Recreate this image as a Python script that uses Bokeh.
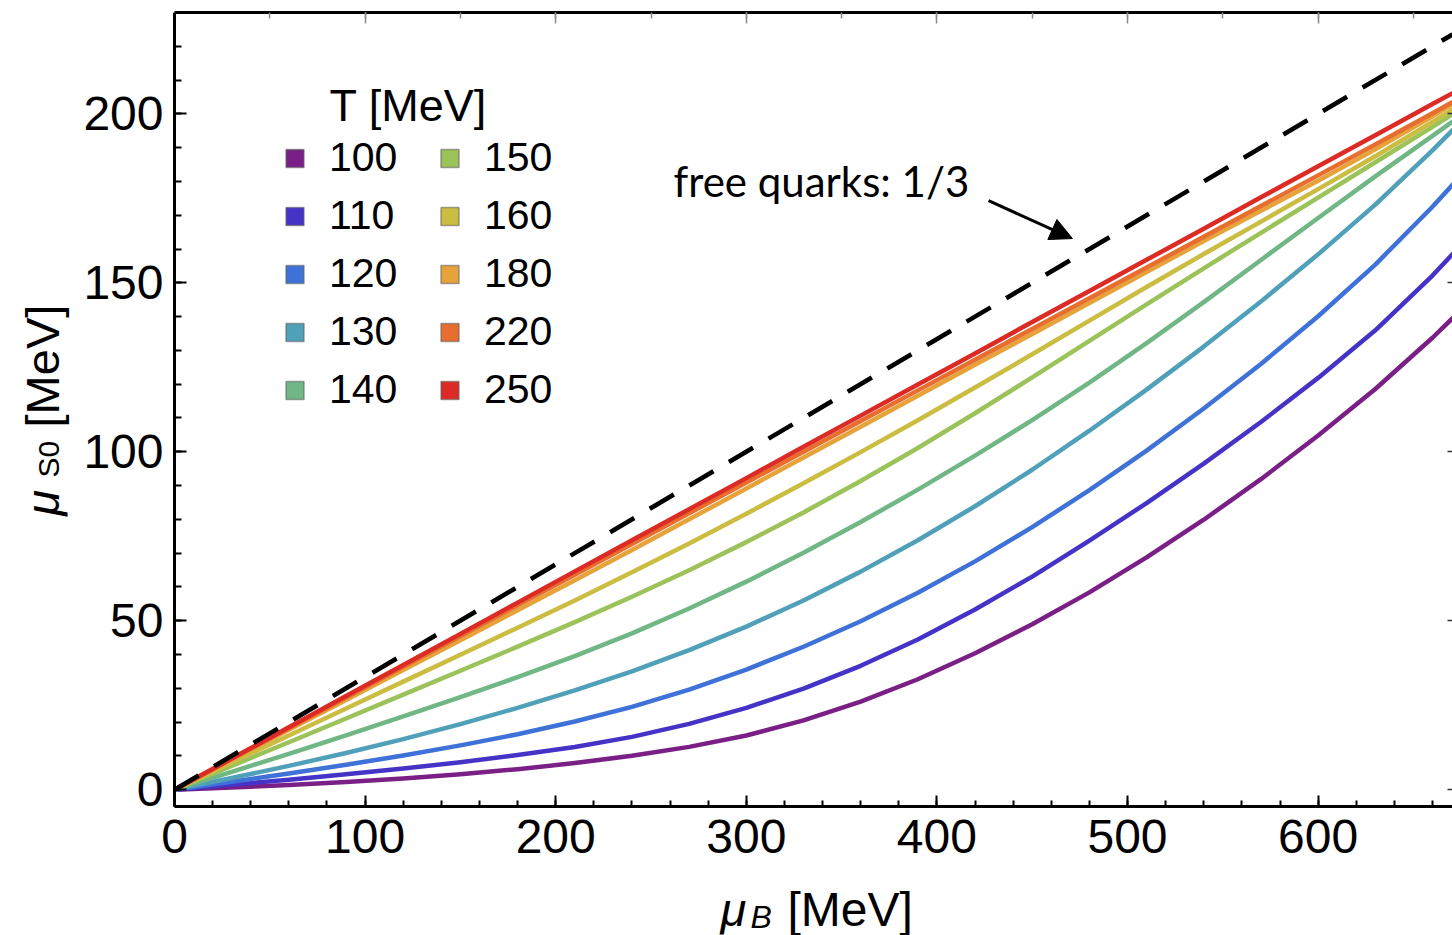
import math
from bokeh.plotting import figure
from bokeh.models import (Label, Arrow, NormalHead, Legend, LegendItem, LinearAxis,
                          FixedTicker, ColumnDataSource, Range1d)
from bokeh.embed import file_html
from bokeh.resources import INLINE

# ---------------- data ----------------
MU_B = [0, 30, 60, 90, 120, 150, 180, 210, 240, 270, 300, 330, 360, 390, 420, 450,
        480, 510, 540, 570, 600, 630, 660, 675]

T100 = [0, 0.63, 1.38, 2.25, 3.30, 4.56, 6.06, 7.86, 10.02, 12.66, 16.02, 20.52, 26.07,
        32.67, 40.35, 48.93, 58.38, 68.73, 79.89, 91.89, 104.79, 118.59, 133.74, 141.99]
T110 = [0, 1.44, 2.94, 4.53, 6.24, 8.13, 10.23, 12.63, 15.63, 19.47, 24.21, 29.91, 36.66,
        44.46, 53.31, 63.06, 73.71, 84.81, 96.51, 108.81, 121.86, 135.96, 152.16, 161.16]
T120 = [0, 2.37, 4.80, 7.35, 10.11, 13.11, 16.41, 20.16, 24.51, 29.61, 35.55, 42.30, 49.86,
        58.26, 67.56, 77.70, 88.65, 100.35, 112.80, 126.00, 140.10, 155.40, 172.50, 181.80]
T130 = [0, 3.45, 7.05, 10.86, 14.97, 19.41, 24.21, 29.40, 35.04, 41.28, 48.24, 55.98, 64.53,
        73.83, 83.88, 94.68, 106.23, 118.38, 131.13, 144.48, 158.43, 173.13, 189.18, 197.73]
T140 = [0, 5.28, 10.62, 16.08, 21.66, 27.39, 33.30, 39.51, 46.26, 53.61, 61.56, 70.11, 79.20,
        88.80, 98.85, 109.35, 120.45, 132.15, 144.30, 156.75, 169.20, 181.50, 193.50, 199.50]
T150 = [0, 7.02, 14.04, 21.06, 28.11, 35.19, 42.33, 49.59, 57.09, 64.95, 73.26, 82.05, 91.35,
        101.13, 111.39, 122.04, 132.84, 143.64, 154.29, 164.79, 175.23, 185.67, 196.17, 201.45]
T160 = [0, 8.04, 16.05, 24.03, 31.98, 39.93, 47.91, 56.01, 64.32, 72.87, 81.66, 90.66, 99.90,
        109.35, 119.01, 128.85, 138.81, 148.77, 158.52, 168.12, 177.72, 187.47, 197.61, 202.86]
T180 = [0, 8.85, 17.70, 26.55, 35.40, 44.25, 53.10, 61.95, 70.95, 80.01, 89.13, 98.28, 107.43,
        116.58, 125.73, 134.88, 144.03, 153.18, 162.36, 171.30, 180.20, 189.50, 199.30, 204.40]
T220 = [0, 9.09, 18.18, 27.27, 36.36, 45.45, 54.54, 63.63, 72.72, 81.81, 90.90, 99.99, 109.08,
        118.17, 127.26, 136.35, 145.44, 154.53, 163.62, 172.71, 181.80, 190.95, 200.20, 204.90]
T250 = [0, 9.20, 18.45, 27.70, 36.90, 46.10, 55.35, 64.60, 73.80, 83.00, 92.20, 101.50, 110.70,
        119.90, 129.10, 138.40, 147.60, 156.80, 166.00, 175.30, 184.50, 193.70, 202.90, 207.50]

TEMPS = ["100", "110", "120", "130", "140", "150", "160", "180", "220", "250"]
CURVES = [T100, T110, T120, T130, T140, T150, T160, T180, T220, T250]
COLORS = ["#7A1F86", "#4433C6", "#3F72D8", "#4FA0B8", "#70B785", "#9CC25A",
          "#CABD42", "#E6A33C", "#E86E2F", "#DC2B25"]

FREE_X = [0, 670.5]          # free quarks: mu_S0 = mu_B / 3
FREE_Y = [0, 223.5]

X_TICKS = [0, 100, 200, 300, 400, 500, 600]
X_MINOR = list(range(0, 680, 20))
Y_TICKS = [0, 50, 100, 150, 200]
Y_MINOR = list(range(0, 240, 10))
TOP_MINOR = list(range(0, 700, 50))

X_MIN, X_MAX = 0, 670.5       # plotted box
Y_MIN, Y_MAX = -5, 230

FONT = "Liberation Sans"

# ---------------- figure ----------------
# the frame spans the whole page; the axes are pinned to the box corners
p = figure(width=1452, height=935, x_range=Range1d(-91.29, X_MAX),
           y_range=Range1d(-43.16, Y_MAX),
           output_backend="svg", toolbar_location=None,
           min_border_left=0, min_border_right=0, min_border_top=12, min_border_bottom=0,
           background_fill_color="white", border_fill_color="white")
p.outline_line_color = None
p.xgrid.visible = False
p.ygrid.visible = False

xa = p.xaxis[0]
xa.ticker = FixedTicker(ticks=X_TICKS, minor_ticks=X_MINOR)
xa.fixed_location = Y_MIN
xa.bounds = (X_MIN, X_MAX)
ya = p.yaxis[0]
ya.ticker = FixedTicker(ticks=Y_TICKS, minor_ticks=Y_MINOR)
ya.fixed_location = X_MIN
ya.bounds = (Y_MIN, Y_MAX)
for ax, tin, mtin in ((xa, 11, 6), (ya, 12, 7)):
    ax.axis_line_width = 3
    ax.axis_line_color = "black"
    ax.major_tick_in = tin
    ax.major_tick_out = 0
    ax.minor_tick_in = mtin
    ax.minor_tick_out = 0
    ax.major_tick_line_width = 2
    ax.minor_tick_line_width = 2
    ax.major_tick_line_color = "black"
    ax.minor_tick_line_color = "black"
    ax.major_label_text_font = FONT
    ax.major_label_text_font_size = "48px"
    ax.major_label_text_color = "black"
xa.major_label_standoff = 13
ya.major_label_standoff = 11

top = LinearAxis(ticker=FixedTicker(ticks=X_TICKS, minor_ticks=TOP_MINOR),
                 bounds=(X_MIN, X_MAX))
top.axis_line_width = 3
top.axis_line_color = "black"
top.major_tick_in = 11
top.major_tick_out = 0
top.minor_tick_in = 6
top.minor_tick_out = 0
top.major_tick_line_color = "#8a8a8a"
top.minor_tick_line_color = "#8a8a8a"
top.major_tick_line_width = 1.5
top.minor_tick_line_width = 1.5
top.major_label_text_font_size = "0px"
top.major_label_text_color = None
top.major_label_standoff = 0
p.add_layout(top, "above")

right = LinearAxis(ticker=FixedTicker(ticks=Y_TICKS, minor_ticks=[]),
                   bounds=(Y_MIN, Y_MAX))
right.axis_line_color = None
right.major_tick_in = 5
right.major_tick_out = 0
right.minor_tick_in = 0
right.minor_tick_out = 0
right.major_tick_line_color = "#333333"
right.major_tick_line_width = 1.5
right.major_label_text_font_size = "0px"
right.major_label_text_color = None
right.major_label_standoff = 0
p.add_layout(right, "right")

# ---------------- curves ----------------
sources = []
for temp, ys, col in zip(TEMPS, CURVES, COLORS):
    src = ColumnDataSource(dict(x=MU_B, y=ys))
    sources.append(src)
    p.line("x", "y", source=src, line_color=col, line_width=4.5, line_join="round")

p.line(FREE_X, FREE_Y, line_color="black", line_width=4.6, line_dash="28 18",
       line_cap="butt")

# ---------------- legend (square swatches; zero-size proxies draw nothing in the plot) ----
items = []
for temp, col, src in zip(TEMPS, COLORS, sources):
    r = p.scatter("x", "y", source=src, marker="square", size=0, fill_color=col,
                  line_color="#666666", line_alpha=0.6, line_width=1.5)
    items.append(LegendItem(label=temp, renderers=[r], index=0))

leg = Legend(items=items, location=(272, 522), nrows=5, orientation="vertical",
             glyph_width=45, glyph_height=46, label_height=46, label_width=87,
             label_standoff=12, spacing=11, padding=0, margin=0,
             border_line_color=None, background_fill_alpha=0,
             label_text_font=FONT, label_text_font_size="41px",
             label_text_color="black")
p.add_layout(leg)


def lab(x, y, text, size, style="normal", angle=0.0, font=FONT):
    p.add_layout(Label(x=x, y=y, text=text, text_font=font, text_font_size=size,
                       text_font_style=style, text_color="black", angle=angle,
                       text_baseline="alphabetic", text_align="left"))


lab(81.3, 202.45, "T [MeV]", "45px")

# ---------------- annotation ----------------
lab(261.8, 180.0, "free quarks: 1/3", "42px", font="Lato")
p.add_layout(Arrow(x_start=427.1, y_start=174.3, x_end=471.1, y_end=163.1,
                   line_width=3, line_color="black",
                   end=NormalHead(size=22, fill_color="black", line_color="black")))

# ---------------- axis titles ----------------
# x title: mu_B [MeV]
lab(286.5, -35.48, "\u03bc", "47px", "italic")
lab(302.2, -37.55, "B", "32px", "italic")
lab(321.6, -35.48, "[MeV]", "48px")

# y title: mu_S0 [MeV]
lab(-69.3, 81.1, "\u03bc", "47px", "italic", math.pi / 2)
lab(-66.1, 92.4, "S0", "30px", "normal", math.pi / 2)
lab(-69.3, 107.2, "[MeV]", "47px", "normal", math.pi / 2)

open("out.html", "w").write(file_html(p, INLINE))
